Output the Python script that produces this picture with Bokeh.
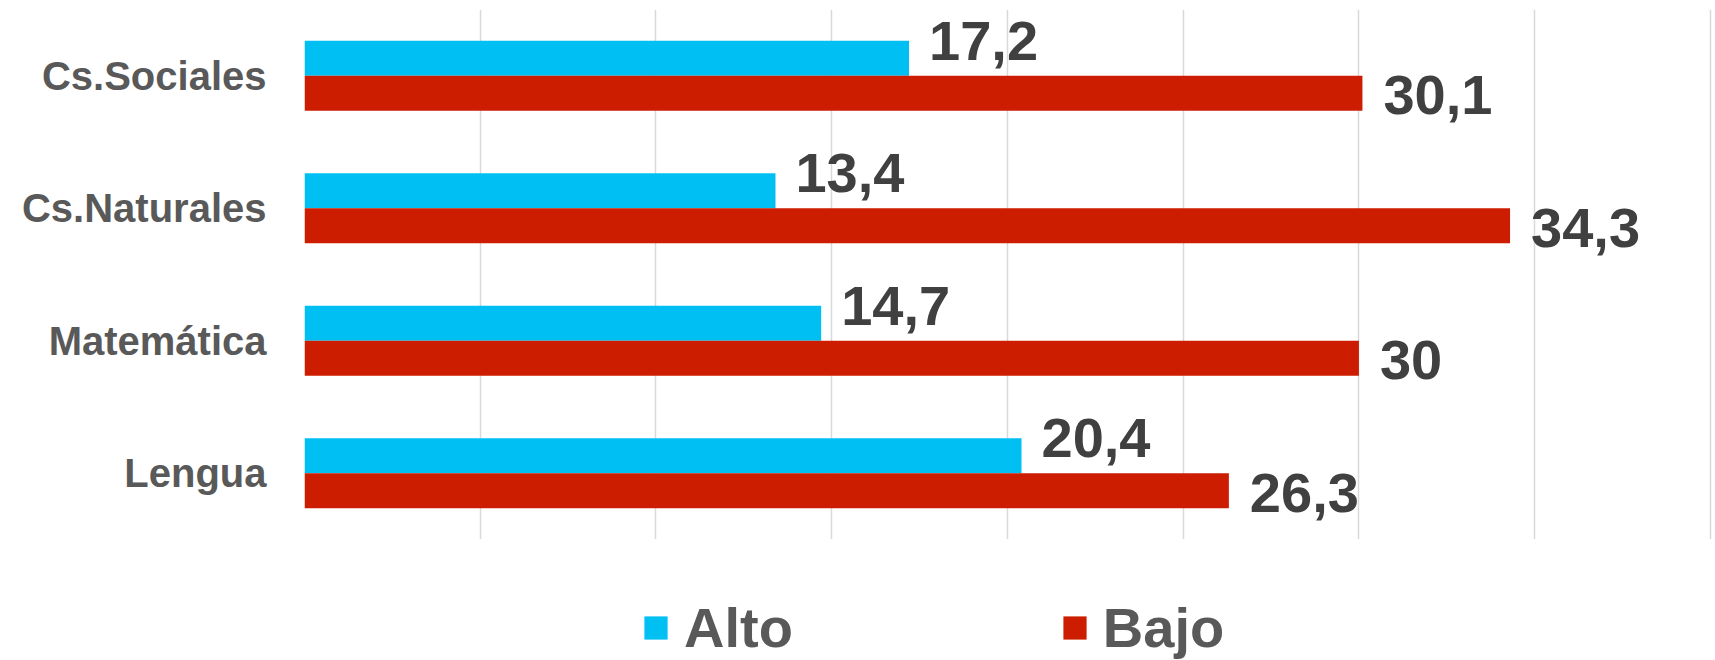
from bokeh.plotting import figure
from bokeh.layouts import column
from bokeh.models import ColumnDataSource, FactorRange, FixedTicker, LabelSet, Legend, LegendItem, Range1d
from bokeh.transform import dodge
from bokeh.core.properties import value
from bokeh.embed import file_html
from bokeh.resources import INLINE

# Data (bottom to top)
categories = ["Lengua", "Matemática", "Cs.Naturales", "Cs.Sociales"]
alto = [20.4, 14.7, 13.4, 17.2]
bajo = [26.3, 30.0, 34.3, 30.1]
series_names = ["Alto", "Bajo"]
grid_ticks = [0, 5, 10, 15, 20, 25, 30, 35, 40]

def fmt(v):
    return f"{v:g}".replace(".", ",")

src = ColumnDataSource(dict(
    cat=categories,
    alto=alto,
    bajo=bajo,
    alto_lbl=[fmt(v) for v in alto],
    bajo_lbl=[fmt(v) for v in bajo],
))

ALTO_C = "#00BFF3"
BAJO_C = "#CD1D00"
FONT = "Liberation Sans"

p = figure(
    width=1712, height=539,
    y_range=FactorRange(factors=categories, range_padding=0),
    x_range=(0, 40.06),
    output_backend="svg", toolbar_location=None,
    min_border_left=304, min_border_right=0, min_border_top=9, min_border_bottom=0,
)
p.outline_line_color = None
p.background_fill_color = "white"
p.border_fill_color = "white"

bw = 0.264
p.hbar(y=dodge("cat", bw / 2, range=p.y_range), right="alto", left=0, height=bw,
       source=src, fill_color=ALTO_C, line_color=None)
p.hbar(y=dodge("cat", -bw / 2, range=p.y_range), right="bajo", left=0, height=bw,
       source=src, fill_color=BAJO_C, line_color=None)

# axes
p.xaxis.visible = False
p.xgrid.ticker = FixedTicker(ticks=grid_ticks)
p.xgrid.grid_line_color = "#D9D9D9"
p.xgrid.grid_line_width = 1.5
p.ygrid.visible = False

ax = p.yaxis[0]
ax.axis_line_color = None
ax.major_tick_line_color = None
ax.minor_tick_line_color = None
ax.major_tick_out = 0
ax.major_tick_in = 0
ax.major_label_standoff = 38
ax.major_label_text_font = FONT
ax.major_label_text_font_style = "bold"
ax.major_label_text_font_size = "40px"
ax.major_label_text_color = "#595959"

# value labels
p.add_layout(LabelSet(x="alto", y=dodge("cat", bw, range=p.y_range), text="alto_lbl", source=src,
                      x_offset=20, text_baseline="middle", text_align="left",
                      text_font=value(FONT), text_font_style="bold", text_font_size="56px",
                      text_color="#404040"))
p.add_layout(LabelSet(x="bajo", y=dodge("cat", -bw / 2, range=p.y_range), text="bajo_lbl", source=src,
                      x_offset=21, y_offset=-2, text_baseline="middle", text_align="left",
                      text_font=value(FONT), text_font_style="bold", text_font_size="56px",
                      text_color="#404040"))

# legend strip
lg = figure(
    width=1712, height=121, x_range=Range1d(0, 1), y_range=Range1d(0, 1),
    x_axis_location=None, y_axis_location=None,
    output_backend="svg", toolbar_location=None,
    min_border_left=304, min_border_right=0, min_border_top=0, min_border_bottom=0,
)
lg.outline_line_color = None
lg.grid.visible = False
# hidden renderers that only provide the legend swatches
ra = lg.hbar(y=0.5, right="alto", left=0, height=0.1, source=src,
             fill_color=ALTO_C, line_color=None, visible=False)
rb = lg.hbar(y=0.5, right="bajo", left=0, height=0.1, source=src,
             fill_color=BAJO_C, line_color=None, visible=False)

legend = Legend(
    items=[LegendItem(label=series_names[0], renderers=[ra]),
           LegendItem(label=series_names[1], renderers=[rb])],
    orientation="horizontal",
    location=(337, 0),
    glyph_width=29, glyph_height=29,
    label_standoff=14, spacing=267, padding=0, margin=0,
    label_text_font=FONT, label_text_font_style="bold", label_text_font_size="56px",
    label_text_color="#595959",
    border_line_color=None, background_fill_alpha=0,
    inactive_fill_alpha=0,
)
lg.add_layout(legend, "center")

layout = column(p, lg, spacing=0)
open("out.html", "w").write(file_html(layout, INLINE))
